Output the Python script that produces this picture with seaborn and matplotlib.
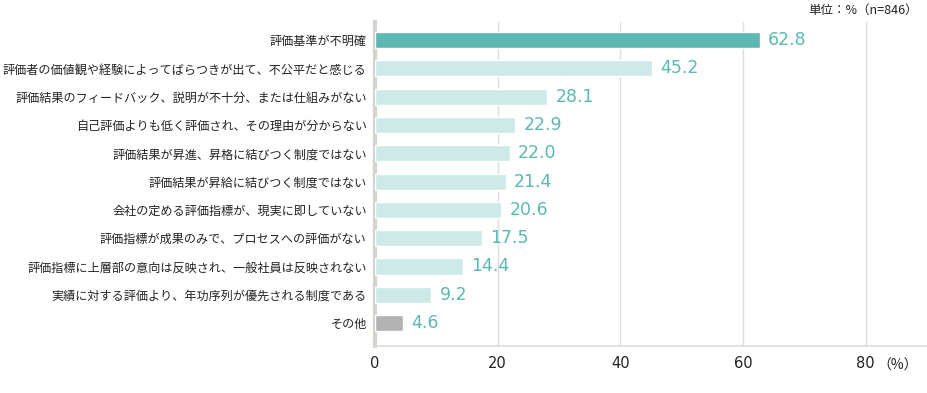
import numpy as np
import pandas as pd
import matplotlib
matplotlib.use("Agg")
import matplotlib.pyplot as plt
import seaborn as sns

labels = [
    "評価基準が不明確",
    "評価者の価値観や経験によってばらつきが出て、不公平だと感じる",
    "評価結果のフィードバック、説明が不十分、または仕組みがない",
    "自己評価よりも低く評価され、その理由が分からない",
    "評価結果が昇進、昇格に結びつく制度ではない",
    "評価結果が昇給に結びつく制度ではない",
    "会社の定める評価指標が、現実に即していない",
    "評価指標が成果のみで、プロセスへの評価がない",
    "評価指標に上層部の意向は反映され、一般社員は反映されない",
    "実績に対する評価より、年功序列が優先される制度である",
    "その他",
]
values = [62.8, 45.2, 28.1, 22.9, 22.0, 21.4, 20.6, 17.5, 14.4, 9.2, 4.6]
bar_colors = ["#5cb8b2"] + ["#cde9e8"] * 9 + ["#b3b3b3"]
xticks = [0, 20, 40, 60, 80]

sns.set_style("white")
plt.rcParams["font.family"] = ["Noto Sans CJK JP", "DejaVu Sans"]

df = pd.DataFrame({"item": labels, "pct": values})

fig = plt.figure(figsize=(9.27, 3.93), dpi=100)
ax = fig.add_axes([375 / 927, 1 - 346 / 393, 552 / 927, 324 / 393])

sns.barplot(data=df, x="pct", y="item", hue="item", palette=bar_colors,
            legend=False, width=0.57, ax=ax, saturation=1, zorder=3)

# value labels
for i, v in enumerate(values):
    ax.text(v + 1.3, i, f"{v:.1f}", va="center", ha="left",
            fontsize=12.5, color="#5cb8b2", family="DejaVu Sans")

ax.set_xlim(0, 90)
ax.set_ylim(10.81, -0.64)
ax.set_xticks(xticks)
ax.set_xticklabels([str(t) for t in xticks], fontsize=10.5, color="#222222",
                   family="DejaVu Sans")
ax.tick_params(axis="x", length=0, pad=7)
ax.tick_params(axis="y", length=0, pad=6, labelsize=8.7, labelcolor="#222222")
ax.set_xlabel("")
ax.set_ylabel("")
ax.grid(axis="x", color="#dddddd", linewidth=1, zorder=0)

for s in ["top", "right"]:
    ax.spines[s].set_visible(False)
ax.spines["left"].set_color("#d6d2ce")
ax.spines["left"].set_linewidth(3)
ax.spines["bottom"].set_color("#dddddd")
ax.spines["bottom"].set_linewidth(1.2)

fig.text(918 / 927, 1 - 366 / 393, "（%）", fontsize=10, color="#222222",
         va="center", ha="right")
fig.text(918 / 927, 1 - 10 / 393, "単位：%（n=846）", fontsize=9,
         color="#222222", va="center", ha="right")

fig.savefig("out.png", dpi=100)
